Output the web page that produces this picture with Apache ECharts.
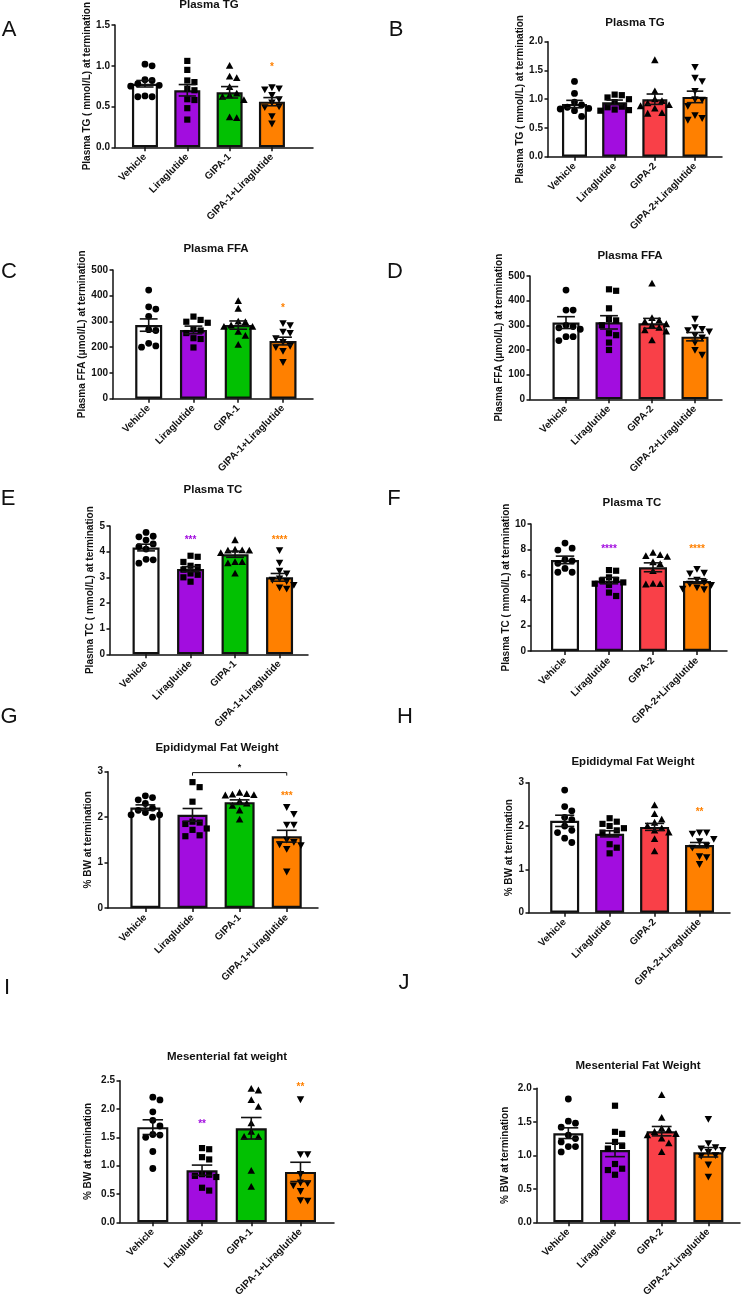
<!DOCTYPE html>
<html><head><meta charset="utf-8">
<script src="https://cdn.jsdelivr.net/npm/echarts@6/dist/echarts.min.js"></script>
<style>html,body{margin:0;padding:0;background:#fff}#c{width:741px;height:1305px}</style>
</head><body><div id="c"></div>
<script>
// ---------- categories & colours ----------
const cats1 = ['Vehicle','Liraglutide','GIPA-1','GIPA-1+Liraglutide'];
const cats2 = ['Vehicle','Liraglutide','GIPA-2','GIPA-2+Liraglutide'];
const colors1 = ['#FFFFFF','#A20DDF','#02C002','#FF8000'];
const colors2 = ['#FFFFFF','#A20DDF','#F94048','#FF8000'];

// ---------- Panel A: Plasma TG (GIPA-1) ----------
const A_mean = [0.78, 0.70, 0.675, 0.56];
const A_sem  = [0.04, 0.07, 0.07, 0.05];
const A_pts  = [[1.00,1.02,0.82,0.83,0.76,0.75,0.78,0.62,0.62,0.63],
                [1.06,0.95,0.82,0.80,0.72,0.70,0.59,0.58,0.48,0.34],
                [1.00,0.87,0.85,0.74,0.66,0.64,0.62,0.58,0.36,0.37],
                [0.72,0.735,0.71,0.64,0.59,0.55,0.50,0.49,0.38,0.29]];
const A_stars = [['',0],['',0],['',0],['*',0.98]];
const A_ticks = [0, 1.5, 0.5];

// ---------- Panel B: Plasma TG (GIPA-2) ----------
const B_mean = [0.915, 0.945, 1.00, 1.04];
const B_sem  = [0.065, 0.04, 0.09, 0.10];
const B_pts  = [[1.31,1.10,0.95,0.90,0.86,0.84,0.83,0.80,0.70],
                [1.08,1.07,1.03,1.00,0.95,0.87,0.86,0.82,0.81,0.80],
                [1.68,1.14,1.00,0.97,0.93,0.90,0.88,0.84,0.76,0.75],
                [1.56,1.37,1.31,1.14,1.00,0.99,0.88,0.72,0.64,0.67]];
const B_stars = [['',0],['',0],['',0],['',0]];
const B_ticks = [0, 2, 0.5];

// ---------- Panel C: Plasma FFA (GIPA-1) ----------
const C_mean = [286, 267, 286, 224];
const C_sem  = [24, 15, 16, 15];
const C_pts  = [[422,357,348,320,268,265,215,200,205],
                [319,306,299,295,270,265,255,235,232,199],
                [380,350,300,298,280,285,280,260,245,210],
                [293,285,260,255,235,220,205,200,185,142]];
const C_stars = [['',0],['',0],['',0],['*',352]];
const C_ticks = [0, 500, 100];

// ---------- Panel D: Plasma FFA (GIPA-2) ----------
const D_mean = [311, 312, 308, 254];
const D_sem  = [24, 27, 20, 17];
const D_pts  = [[443,362,362,300,295,290,284,254,254,238],
                [446,440,369,325,320,300,268,260,230,200],
                [470,330,320,315,305,300,290,280,275,240],
                [326,292,285,280,275,260,250,230,200,180]];
const D_stars = [['',0],['',0],['',0],['',0]];
const D_ticks = [0, 500, 100];

// ---------- Panel E: Plasma TC (GIPA-1) ----------
const E_mean = [4.16, 3.32, 3.90, 3.00];
const E_sem  = [0.13, 0.10, 0.12, 0.15];
const E_pts  = [[4.75,4.6,4.58,4.45,4.3,4.2,4.1,3.7,3.68,3.55],
                [3.84,3.8,3.6,3.45,3.4,3.3,3.15,3.1,3.0,2.83],
                [4.45,4.08,4.06,4.05,4.05,3.95,3.6,3.55,3.6,3.15],
                [4.05,3.57,3.25,3.15,2.95,2.9,2.85,2.7,2.6,2.55]];
const E_stars = [['',0],['***',4.45],['',0],['****',4.43]];
const E_ticks = [0, 5, 1];

// ---------- Panel F: Plasma TC (GIPA-2) ----------
const F_mean = [7.17, 5.54, 6.59, 5.51];
const F_sem  = [0.30, 0.25, 0.35, 0.18];
const F_pts  = [[8.5,8.1,7.95,7.2,7.1,6.9,6.5,6.2,6.2],
                [6.37,6.32,5.8,5.6,5.55,5.4,5.3,5.2,4.6,4.33],
                [7.74,7.56,7.48,7.43,7.0,6.85,6.3,5.3,5.28,5.25],
                [6.45,6.15,6.1,5.6,5.4,5.3,5.2,5.0,4.9,4.85]];
const F_stars = [['',0],['****',8.0],['',0],['****',8.0]];
const F_ticks = [0, 10, 2];

// ---------- Panel G: Epididymal fat (GIPA-1) ----------
const G_mean = [2.21, 2.05, 2.33, 1.58];
const G_sem  = [0.06, 0.14, 0.05, 0.13];
const G_pts  = [[2.47,2.43,2.38,2.3,2.2,2.15,2.1,2.05,2.05,2.0],
                [2.77,2.66,2.34,1.9,1.88,1.85,1.75,1.72,1.6,1.58],
                [2.54,2.51,2.5,2.49,2.48,2.35,2.3,2.25,2.15,1.95],
                [2.22,2.07,1.83,1.83,1.5,1.45,1.4,1.38,1.3,0.8]];
const G_stars = [['',0],['',0],['',0],['***',2.45]];
const G_bracket = [1, 3, 2.98, '*'];
const G_ticks = [0, 3, 1];

// ---------- Panel H: Epididymal fat (GIPA-2) ----------
const H_mean = [2.12, 1.82, 1.98, 1.56];
const H_sem  = [0.13, 0.07, 0.08, 0.06];
const H_pts  = [[2.83,2.45,2.35,2.2,2.15,2.0,1.9,1.85,1.72,1.62],
                [2.18,2.1,2.05,2.0,1.95,1.9,1.85,1.58,1.5,1.37],
                [2.48,2.28,2.15,2.08,2.0,1.95,1.9,1.85,1.7,1.42],
                [1.85,1.85,1.82,1.7,1.65,1.55,1.5,1.3,1.28,1.12]];
const H_stars = [['',0],['',0],['',0],['**',2.31]];
const H_ticks = [0, 3, 1];

// ---------- Panel I: Mesenterial fat (GIPA-1) ----------
const I_mean = [1.68, 0.92, 1.66, 0.89];
const I_sem  = [0.13, 0.09, 0.19, 0.17];
const I_pts  = [[2.21,2.16,1.95,1.8,1.7,1.55,1.54,1.5,1.25,0.95],
                [1.31,1.29,1.15,1.11,0.85,0.84,0.82,0.8,0.61,0.56],
                [2.36,2.33,2.16,2.04,1.75,1.6,1.51,1.51,0.91,0.63],
                [2.17,1.2,1.2,0.85,0.7,0.69,0.65,0.55,0.39,0.38]];
const I_stars = [['',0],['**',1.73],['',0],['**',2.39]];
const I_ticks = [0, 2.5, 0.5];

// ---------- Panel J: Mesenterial fat (GIPA-2) ----------
const J_mean = [1.33, 1.08, 1.36, 1.045];
const J_sem  = [0.08, 0.10, 0.07, 0.07];
const J_pts  = [[1.84,1.51,1.48,1.42,1.3,1.25,1.2,1.13,1.13,1.05],
                [1.74,1.35,1.32,1.2,1.14,1.1,0.87,0.8,0.78,0.71],
                [1.9,1.56,1.4,1.38,1.35,1.32,1.3,1.25,1.18,1.05],
                [1.54,1.18,1.12,1.1,1.08,1.05,1.0,0.99,0.86,0.68]];
const J_stars = [['',0],['',0],['',0],['',0]];
const J_ticks = [0, 2, 0.5];

// ---------- texts ----------
const titles = ['Plasma TG','Plasma TG','Plasma FFA','Plasma FFA','Plasma TC','Plasma TC',
  'Epididymal Fat Weight','Epididymal Fat Weight','Mesenterial fat weight','Mesenterial Fat Weight'];
const yNames = ['Plasma TG ( mmol/L) at termination','Plasma TG ( mmol/L) at termination',
  'Plasma FFA (μmol/L) at termination','Plasma FFA (μmol/L) at termination',
  'Plasma TC ( mmol/L) at termination','Plasma TC ( mmol/L) at termination',
  '% BW at termination','% BW at termination','% BW at termination','% BW at termination'];
const letters = ['A','B','C','D','E','F','G','H','I','J'];

// ---------- layout (pixels) ----------
const layout = [
 {axisX:115, start:123.8, width:169.3, end:313, top:25,    bottom:147.3, barW:26, gap:20, title:[209,5],    letter:[9,30],   dec:1},
 {axisX:548, start:554.4, width:160.7, end:722, top:41.7,  bottom:156.7, barW:25, gap:21, title:[635,23],   letter:[396,30], dec:1},
 {axisX:113, start:126.3, width:179.1, end:313, top:270,   bottom:398.7, barW:27, gap:21, title:[216,249],  letter:[9,272],  dec:0},
 {axisX:530, start:544.5, width:172,   end:722, top:276,   bottom:399.3, barW:27, gap:18, title:[630,256],  letter:[395,272],dec:0},
 {axisX:110, start:123.8, width:178,   end:308, top:526,   bottom:654.3, barW:27, gap:10, title:[213,490],  letter:[8,499],  dec:0},
 {axisX:531, start:543,   width:176,   end:727, top:524,   bottom:651,   barW:28, gap:16, title:[632,503],  letter:[394,499],dec:0},
 {axisX:108, start:121.8, width:188.5, end:318, top:771.7, bottom:908,   barW:30, gap:13, title:[217,748],  letter:[9,717],  dec:0},
 {axisX:529, start:542.2, width:179.8, end:730, top:782.7, bottom:912.7, barW:29, gap:11, title:[633,762],  letter:[405,717],dec:0},
 {axisX:120, start:128.2, width:196.9, end:334, top:1080.7,bottom:1222.3,barW:31, gap:27, title:[227,1057], letter:[7,988],  dec:1},
 {axisX:536.7,start:545,  width:186.7, end:740, top:1088.3,bottom:1222.3,barW:30, gap:26, title:[638,1066], letter:[404,983],dec:1}
];

const panels = [
 {cats:cats1, colors:colors1, mean:A_mean, sem:A_sem, pts:A_pts, stars:A_stars, ticks:A_ticks},
 {cats:cats2, colors:colors2, mean:B_mean, sem:B_sem, pts:B_pts, stars:B_stars, ticks:B_ticks},
 {cats:cats1, colors:colors1, mean:C_mean, sem:C_sem, pts:C_pts, stars:C_stars, ticks:C_ticks},
 {cats:cats2, colors:colors2, mean:D_mean, sem:D_sem, pts:D_pts, stars:D_stars, ticks:D_ticks},
 {cats:cats1, colors:colors1, mean:E_mean, sem:E_sem, pts:E_pts, stars:E_stars, ticks:E_ticks},
 {cats:cats2, colors:colors2, mean:F_mean, sem:F_sem, pts:F_pts, stars:F_stars, ticks:F_ticks},
 {cats:cats1, colors:colors1, mean:G_mean, sem:G_sem, pts:G_pts, stars:G_stars, ticks:G_ticks, bracket:G_bracket},
 {cats:cats2, colors:colors2, mean:H_mean, sem:H_sem, pts:H_pts, stars:H_stars, ticks:H_ticks},
 {cats:cats1, colors:colors1, mean:I_mean, sem:I_sem, pts:I_pts, stars:I_stars, ticks:I_ticks},
 {cats:cats2, colors:colors2, mean:J_mean, sem:J_sem, pts:J_pts, stars:J_stars, ticks:J_ticks}
];

const FONT = '"Liberation Sans", Arial, Helvetica, sans-serif';
const SYM = 6.8;

// simple beeswarm: horizontal pixel offsets so points don't overlap (capped to the bar width)
function swarm(vals, pxPerUnit, maxOff) {
  const order = vals.map((v,i)=>i).sort((a,b)=>vals[b]-vals[a]);
  const placed = []; const off = new Array(vals.length).fill(0);
  const d = SYM * 1.05;
  const list = [0]; for (let k=1;k<8;k++){ if (k*d <= maxOff) list.push(k*d, -k*d); }
  for (const i of order) {
    const y = vals[i]*pxPerUnit;
    let chosen = null, best = 0, bestX = 0;
    for (const x of list) {
      let mind = Infinity;
      for (const p of placed) mind = Math.min(mind, Math.hypot(p[0]-x, p[1]-y));
      if (mind >= d) { chosen = x; break; }
      if (mind > best) { best = mind; bestX = x; }
    }
    if (chosen === null) chosen = bestX;
    placed.push([chosen, y]); off[i] = chosen;
  }
  return off;
}

const grids=[], xAxes=[], yAxes=[], series=[], graphics=[];
panels.forEach((P, p) => {
  const L = layout[p];
  const h = L.bottom - L.top;
  const [ymin, ymax, step] = P.ticks;
  const ppu = h / (ymax - ymin);
  grids.push({left:L.start, top:L.top, width:L.width, height:h, containLabel:false});
  grids.push({left:L.axisX, top:L.top, width:L.end - L.axisX, height:h, containLabel:false});
  const gi = 2*p;
  xAxes.push({type:'category', gridIndex:gi, data:P.cats,
    axisLine:{show:false},
    axisTick:{show:true, alignWithLabel:true, length:4, lineStyle:{color:'#111', width:1.5}},
    axisLabel:{interval:0, rotate:45, margin:8, color:'#111', fontFamily:FONT, fontWeight:'bold', fontSize:10},
    splitLine:{show:false}});
  xAxes.push({type:'value', gridIndex:gi+1, min:0, max:1, position:'bottom',
    axisLine:{show:true, onZero:false, lineStyle:{color:'#111', width:1.5}},
    axisTick:{show:false}, axisLabel:{show:false}, splitLine:{show:false}});
  yAxes.push({type:'value', gridIndex:gi, min:ymin, max:ymax, interval:step,
    offset: L.start - L.axisX,
    axisLine:{show:true, lineStyle:{color:'#111', width:1.5}},
    axisTick:{show:true, length:3.5, lineStyle:{color:'#111', width:1.5}},
    axisLabel:{color:'#111', fontFamily:FONT, fontWeight:'bold', fontSize:10, margin:5,
      formatter: v => v.toFixed(L.dec)},
    splitLine:{show:false},
    name: yNames[p], nameLocation:'middle', nameGap:L.gap, nameRotate:90,
    nameTextStyle:{color:'#111', fontFamily:FONT, fontWeight:'bold', fontSize:10}});
  yAxes.push({type:'value', gridIndex:gi+1, min:0, max:1, show:false});

  series.push({type:'bar', xAxisIndex:gi, yAxisIndex:gi, barWidth:L.barW, z:2,
    data: P.mean.map((m,i)=>({value:m, itemStyle:{color:P.colors[i], borderColor:'#111', borderWidth:2.2}})),
    animation:false, silent:true});

  const ptData = [];
  P.pts.forEach((arr, ci) => {
    const off = swarm(arr, ppu, L.barW/2 + 2);
    arr.forEach((v, k) => ptData.push([ci, v, off[k]]));
  });
  series.push({type:'custom', xAxisIndex:gi, yAxisIndex:gi, z:3, animation:false, silent:true,
    data: ptData,
    renderItem: (params, api) => {
      const ci = api.value(0);
      const c = api.coord([ci, api.value(1)]);
      const x = c[0] + api.value(2), y = c[1];
      const s = SYM;
      const st = {fill:'#000'};
      if (ci === 0) return {type:'circle', shape:{cx:x, cy:y, r:s/2}, style:st};
      if (ci === 1) return {type:'rect', shape:{x:x-s/2+0.3, y:y-s/2+0.3, width:s-0.6, height:s-0.6}, style:st};
      if (ci === 2) return {type:'polygon', shape:{points:[[x, y-s*0.55],[x-s*0.55, y+s*0.45],[x+s*0.55, y+s*0.45]]}, style:st};
      return {type:'polygon', shape:{points:[[x, y+s*0.55],[x-s*0.55, y-s*0.45],[x+s*0.55, y-s*0.45]]}, style:st};
    }});

  series.push({type:'custom', xAxisIndex:gi, yAxisIndex:gi, z:4, animation:false, silent:true,
    data: P.mean.map((m,i)=>[i, m, P.sem[i]]),
    renderItem: (params, api) => {
      const i = api.value(0), m = api.value(1), s = api.value(2);
      const hi = api.coord([i, m+s]), lo = api.coord([i, m-s]);
      const w = L.barW * 0.33;
      const ls = {stroke:'#111', lineWidth:1.6};
      return {type:'group', children:[
        {type:'line', shape:{x1:hi[0], y1:hi[1], x2:lo[0], y2:lo[1]}, style:ls},
        {type:'line', shape:{x1:hi[0]-w, y1:hi[1], x2:hi[0]+w, y2:hi[1]}, style:ls},
        {type:'line', shape:{x1:lo[0]-w, y1:lo[1], x2:lo[0]+w, y2:lo[1]}, style:ls}
      ]};
    }});

  const starData = P.stars.map((s,i)=>[i, s[1], s[0]]).filter(d=>d[2]);
  if (starData.length) {
    series.push({type:'custom', xAxisIndex:gi, yAxisIndex:gi, z:5, animation:false, silent:true,
      data: starData.map(d=>[d[0], d[1]]),
      renderItem: (params, api) => {
        const d = starData[params.dataIndex];
        const c = api.coord([d[0], d[1]]);
        return {type:'text', x:c[0], y:c[1], style:{text:d[2], fill:P.colors[d[0]],
          font:'bold 10px ' + FONT, textAlign:'center', textVerticalAlign:'middle'}};
      }});
  }
  if (P.bracket) {
    const B = P.bracket;
    series.push({type:'custom', xAxisIndex:gi, yAxisIndex:gi, z:5, animation:false, silent:true, clip:false,
      data:[[B[0], B[1], B[2]]],
      renderItem: (params, api) => {
        const a = api.coord([api.value(0), api.value(2)]);
        const b = api.coord([api.value(1), api.value(2)]);
        return {type:'group', children:[
          {type:'polyline', shape:{points:[[a[0], a[1]+3],[a[0],a[1]],[b[0],b[1]],[b[0],b[1]+3]]},
            style:{stroke:'#111', lineWidth:1, fill:null}},
          {type:'text', x:(a[0]+b[0])/2, y:a[1]-5, style:{text:B[3], fill:'#111',
            font:'bold 9px ' + FONT, textAlign:'center', textVerticalAlign:'middle'}}
        ]};
      }});
  }
  graphics.push({type:'text', x:L.title[0], y:L.title[1], style:{text:titles[p], fill:'#111',
    font:'bold 11.5px ' + FONT, textAlign:'center', textVerticalAlign:'middle'}});
  graphics.push({type:'text', x:L.letter[0], y:L.letter[1], style:{text:letters[p], fill:'#111',
    font:'22px ' + FONT, textAlign:'center', textVerticalAlign:'middle'}});
});

const chart = echarts.init(document.getElementById('c'), null, {renderer:'canvas'});
chart.setOption({animation:false, backgroundColor:'#fff', grid:grids, xAxis:xAxes, yAxis:yAxes,
  series:series, graphic:graphics});
</script></body></html>
